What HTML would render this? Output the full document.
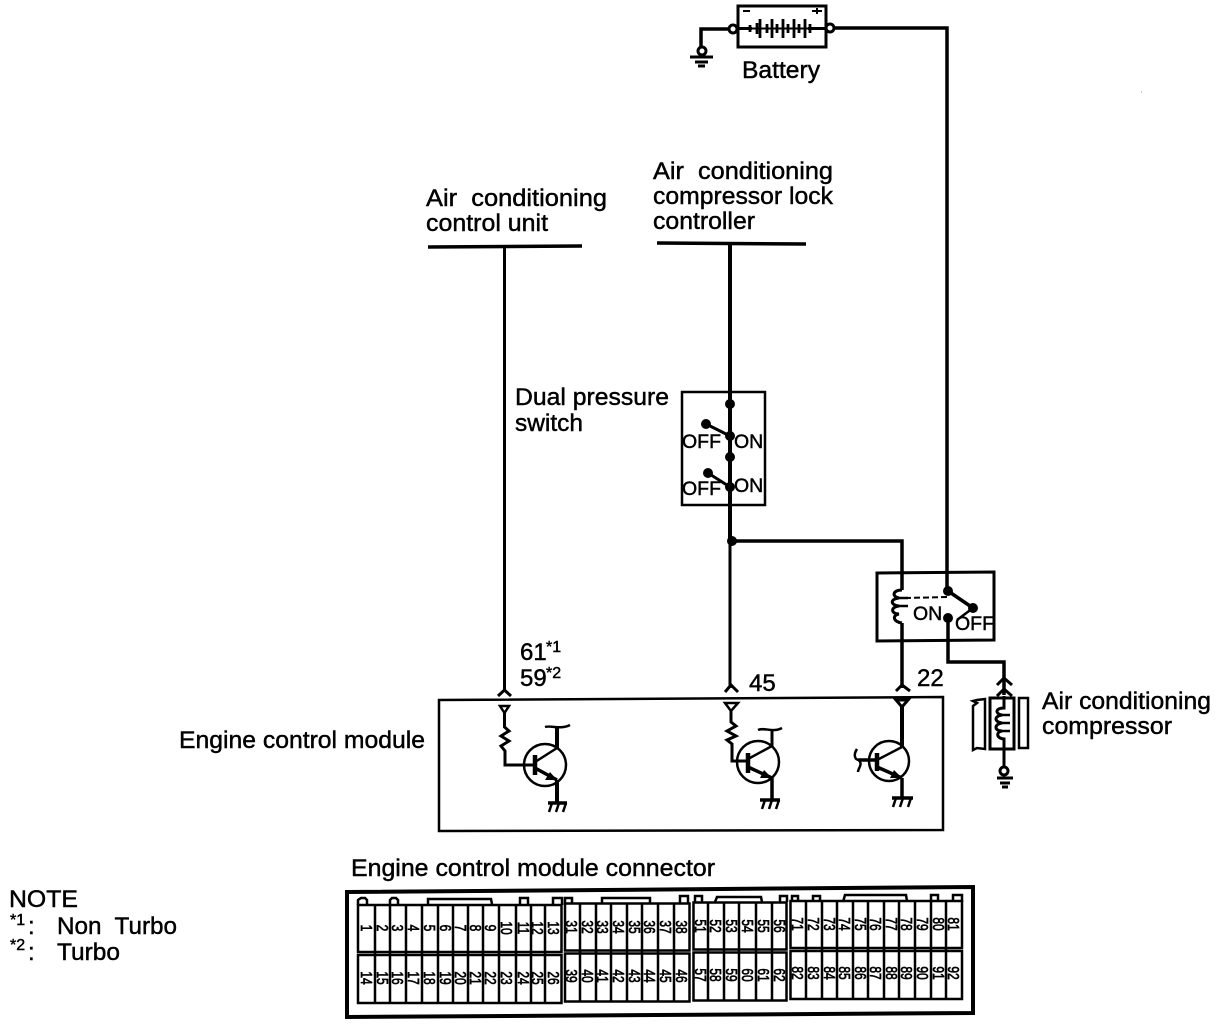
<!DOCTYPE html>
<html>
<head>
<meta charset="utf-8">
<style>
html,body{margin:0;padding:0;background:#fff;width:1216px;height:1026px;overflow:hidden}
svg{display:block}
text{font-family:"Liberation Sans",sans-serif;fill:#000;stroke:#000;stroke-width:.45}
.l{font-size:24px}
.s{font-size:19.5px}
.p{font-size:16px;text-anchor:middle;stroke-width:.7}
</style>
</head>
<body>
<svg width="1216" height="1026" viewBox="0 0 1216 1026" xmlns="http://www.w3.org/2000/svg">
<rect width="1216" height="1026" fill="#fff"/>
<g fill="none" stroke="#000" stroke-width="2">

<!-- Battery -->
<rect x="738" y="6" width="88" height="41" stroke-width="3"/>
<circle cx="733" cy="29" r="4" stroke-width="3"/>
<circle cx="830" cy="28" r="4" stroke-width="3"/>
<path d="M729,29H701V47" stroke-width="3.500"/>
<circle cx="702" cy="51" r="4" stroke-width="3"/>
<path d="M690,57H713M695,62H708" stroke-width="3"/>
<path d="M698,66H705" stroke-width="3"/>
<path d="M737,28.500H752M808,28.500H826" stroke-width="3"/>
<path d="M750,25V32M757,23V34M760,19V38M767,24V33M772,19V38M777,24V33M783,19V38M788,24V33M794,19V38M799,24V33M805,19V38M810,24V33" stroke-width="2.800"/>
<path d="M748,28.500H808" stroke-width="2"/>
<path d="M743,11H750M812,11H822M817,8V14" stroke-width="2"/>
<path d="M834,28H947V591" stroke-width="3.500"/>

<!-- Top bars -->
<path d="M428,247L582,246" stroke-width="3.500"/>
<path d="M657,243L806,244" stroke-width="3.500"/>

<!-- Wires -->
<path d="M504.500,247V692" stroke-width="3"/>
<path d="M730,244V540" stroke-width="4"/>
<path d="M730,540V688" stroke-width="3"/>
<path d="M732,541H902V590" stroke-width="3.500"/>
<circle cx="732" cy="541" r="5" fill="#000" stroke="none"/>

<!-- Dual pressure switch -->
<path d="M682,392H765V505H682Z" stroke-width="2.500"/>
<path d="M706,424L730,436M708,473L730,487" stroke-width="3"/>
<g fill="#000" stroke="none">
<circle cx="730" cy="404" r="5"/>
<circle cx="706" cy="424" r="5"/>
<circle cx="730" cy="436" r="5"/>
<circle cx="730" cy="457" r="5"/>
<circle cx="708" cy="473" r="5"/>
<circle cx="730" cy="487" r="5"/>
</g>

<!-- Relay -->
<path d="M877,573L994,572V640L877,641Z" stroke-width="3"/>
<path d="M902,590C892,590 892,597 899,598C890,599 890,605 899,606C890,607 891,614 899,614C892,615 893,622 902,623" stroke-width="3"/>
<path d="M895,598H908M895,606H908" stroke-width="2.500"/>
<path d="M902,623V688" stroke-width="3.500"/>
<path d="M905,598L948,597" stroke-width="2" stroke-dasharray="6,3"/>
<path d="M948,591L973,608" stroke-width="3.500"/>
<path d="M973,608L957,620" stroke-width="2.500"/>
<path d="M948,618V662H1004V695" stroke-width="3.500"/>
<g fill="#000" stroke="none">
<circle cx="948" cy="591" r="5"/>
<circle cx="973" cy="608" r="5"/>
<circle cx="948" cy="618" r="5"/>
</g>

<!-- Compressor -->
<path d="M997,685L1004,678L1012,685" stroke-width="3"/>
<path d="M997,696L1004,689L1012,696" stroke-width="3"/>
<rect x="990" y="698" width="24" height="51" stroke-width="3"/>
<path d="M1004,696V708C995,708 995,714 1002,715C994,716 994,722 1002,723C994,724 994,731 1002,731C996,732 996,738 1004,739V767" stroke-width="3"/>
<path d="M998,715H1010M998,723H1010M998,731H1010" stroke-width="2.500"/>
<path d="M973,701L977,703L973,706V750L977,748L985,749V699L977,700Z" stroke-width="2.500"/>
<rect x="1019" y="698" width="9" height="50" stroke-width="2.500"/>
<circle cx="1004" cy="771" r="4" stroke-width="3"/>
<path d="M997,778H1013M1000,783H1010M1002,787H1008" stroke-width="3"/>

<!-- ECM box -->
<path d="M439,700L943,697V830L439,831Z" stroke-width="2.500"/>

<!-- Chevrons -->
<path d="M498,696L504.500,690L511,696" stroke-width="3"/>
<path d="M725,692L731,685L738,692" stroke-width="3"/>
<path d="M896,691L902,685L910,691" stroke-width="3"/>

<!-- Transistor 1 -->
<path d="M500,706H509L504.500,713Z" stroke-width="2.500"/>
<path d="M504.500,713V727L509,731L501,736L509,741L501,746L505,751V765H535" stroke-width="3"/>
<circle cx="545" cy="765" r="21" stroke-width="2.500"/>
<path d="M535,755V775" stroke-width="4.500"/>
<path d="M535,762L557,748" stroke-width="2.500"/>
<path d="M557,749V727" stroke-width="4"/>
<path d="M545,727C551,725 560,730 570,725" stroke-width="2.500"/>
<path d="M535,768L557,780" stroke-width="3.500"/>
<path d="M557,780L545,780L550,772Z" fill="#000" stroke="none"/>
<path d="M557,780V803" stroke-width="4"/>
<path d="M548,803H567" stroke-width="3.500"/>
<path d="M552,803L549,812M559,803L556,812M566,803L563,812" stroke-width="2.500"/>

<!-- Transistor 2 -->
<path d="M725,703H738L731,711Z" stroke-width="2.500"/>
<path d="M731,711V722L736,726L727,731L736,736L727,740L732,744V761H748" stroke-width="3"/>
<circle cx="758" cy="762" r="21" stroke-width="2.500"/>
<path d="M748,753V773" stroke-width="4.500"/>
<path d="M748,759L772,746" stroke-width="2.500"/>
<path d="M772,746V730" stroke-width="3"/>
<path d="M758,730C764,727 773,733 782,728" stroke-width="2.500"/>
<path d="M748,767L772,778" stroke-width="3.500"/>
<path d="M772,778L760,778L764,770Z" fill="#000" stroke="none"/>
<path d="M772,778V800" stroke-width="3.500"/>
<path d="M760,800H780" stroke-width="3.500"/>
<path d="M765,800L762,809M772,800L769,809M779,800L776,809" stroke-width="2.500"/>

<!-- Transistor 3 -->
<path d="M896,700H908L902,707Z" stroke-width="3"/>
<path d="M902,707V747" stroke-width="4"/>
<circle cx="889" cy="761" r="20" stroke-width="2.500"/>
<path d="M877,753V771" stroke-width="4.500"/>
<path d="M877,760L902,747" stroke-width="2.500"/>
<path d="M877,767L902,778" stroke-width="3.500"/>
<path d="M902,778L890,778L894,770Z" fill="#000" stroke="none"/>
<path d="M902,778V798" stroke-width="3.500"/>
<path d="M892,798H913" stroke-width="3.500"/>
<path d="M896,798L893,807M903,798L900,807M911,798L908,807" stroke-width="2.500"/>
<path d="M858,760H877" stroke-width="3.500"/>
<path d="M857,749C853,755 855,760 859,760C863,765 858,768 858,772" stroke-width="2.500"/>

<!-- Connector outline -->
<path d="M347,892L973,887V1013L347,1017Z" stroke-width="4"/>
<!-- Tabs -->
<path d="M358,905V900L361,898H365L367,900V905M390,905V900L392,898H396L398,900V905M428,904V899H491L492,904M520,905V898H528V905M553,905V898H562V905M565,905V898H572V904M602,903V898H650V903M680,903V896H688V903M695,903V896H702V903M715,902L717,897H761L762,902M780,902V896H787V902M792,902V896H798V902M813,902V896H820V902M843,902L845,895H906L907,901M931,902V895H938V902M953,902V895H962V902" stroke-width="2.500"/>

<!-- Block 1 -->
<g stroke-width="2.500">
<path d="M358,905H561.500V952H358ZM358,955H561.500V1003H358Z"/>
<path d="M375,905V1003M390,905V1003M406,905V1003M422,905V1003M438,905V1003M453,905V1003M468,905V1003M483,905V1003M499,905V1003M516,905V1003M531,905V1003M545,905V1003"/>
</g>
<!-- Block 2 -->
<g stroke-width="2.500" transform="translate(0,-1.500)">
<path d="M565,905H689.500V952H565ZM565,955H689.500V1003H565Z"/>
<path d="M580,905V1003M596,905V1003M611,905V1003M627,905V1003M642,905V1003M658,905V1003M674,905V1003"/>
</g>
<!-- Block 3 -->
<g stroke-width="2.500" transform="translate(0,-2.500)">
<path d="M693.500,905H786.500V952H693.500ZM693.500,955H786.500V1003H693.500Z"/>
<path d="M708,905V1003M724,905V1003M739,905V1003M756,905V1003M772,905V1003"/>
</g>
<!-- Block 4 -->
<g stroke-width="2.500" transform="translate(0,-4)">
<path d="M790.500,905H962V952H790.500ZM790.500,955H962V1003H790.500Z"/>
<path d="M806,905V1003M822,905V1003M837,905V1003M853,905V1003M868,905V1003M884,905V1003M899,905V1003M915,905V1003M931,905V1003M946,905V1003"/>
</g>
<path d="M1141,92h1" stroke-width="1" stroke="#999"/>
</g>

<!-- Labels -->
<text class="l" x="742" y="78" textLength="78" lengthAdjust="spacingAndGlyphs">Battery</text>
<text class="l" x="426" y="206" textLength="181" lengthAdjust="spacingAndGlyphs" xml:space="preserve">Air  conditioning</text>
<text class="l" x="426" y="231" textLength="122" lengthAdjust="spacingAndGlyphs">control unit</text>
<text class="l" x="653" y="179" textLength="180" lengthAdjust="spacingAndGlyphs" xml:space="preserve">Air  conditioning</text>
<text class="l" x="653" y="204" textLength="180" lengthAdjust="spacingAndGlyphs">compressor lock</text>
<text class="l" x="653" y="229" textLength="102" lengthAdjust="spacingAndGlyphs">controller</text>
<text class="l" x="515" y="405" textLength="154" lengthAdjust="spacingAndGlyphs">Dual pressure</text>
<text class="l" x="515" y="431" textLength="68" lengthAdjust="spacingAndGlyphs">switch</text>
<text class="s" x="682" y="448">OFF</text>
<text class="s" x="734" y="448">ON</text>
<text class="s" x="682" y="495">OFF</text>
<text class="s" x="734" y="492">ON</text>
<text class="s" x="913" y="620">ON</text>
<text class="s" x="955" y="630">OFF</text>
<text class="l" x="520" y="660">61</text><text x="546" y="652" font-size="16">*1</text>
<text class="l" x="520" y="686">59</text><text x="546" y="678" font-size="16">*2</text>
<text class="l" x="749" y="691">45</text>
<text class="l" x="917" y="686">22</text>
<text class="l" x="1042" y="709" textLength="169" lengthAdjust="spacingAndGlyphs">Air conditioning</text>
<text class="l" x="1042" y="734" textLength="130" lengthAdjust="spacingAndGlyphs">compressor</text>
<text class="l" x="179" y="748" textLength="246" lengthAdjust="spacingAndGlyphs">Engine control module</text>
<text class="l" x="351" y="876" textLength="364" lengthAdjust="spacingAndGlyphs">Engine control module connector</text>
<text class="l" x="9" y="907" textLength="69" lengthAdjust="spacingAndGlyphs">NOTE</text>
<text x="10" y="925" font-size="16">*1</text><text class="l" x="28" y="934">:</text>
<text class="l" x="57" y="934" textLength="120" lengthAdjust="spacingAndGlyphs" xml:space="preserve">Non  Turbo</text>
<text x="10" y="950" font-size="16">*2</text><text class="l" x="28" y="960">:</text>
<text class="l" x="57" y="960" textLength="63" lengthAdjust="spacingAndGlyphs">Turbo</text>

<!-- Connector pin numbers: rotated 90deg and compressed along their length -->
<g>
<text class="p" transform="matrix(0 .75 -1 0 361 928)">1</text>
<text class="p" transform="matrix(0 .75 -1 0 377 928)">2</text>
<text class="p" transform="matrix(0 .75 -1 0 392 928)">3</text>
<text class="p" transform="matrix(0 .75 -1 0 408 928)">4</text>
<text class="p" transform="matrix(0 .75 -1 0 424 928)">5</text>
<text class="p" transform="matrix(0 .75 -1 0 440 928)">6</text>
<text class="p" transform="matrix(0 .75 -1 0 455 928)">7</text>
<text class="p" transform="matrix(0 .75 -1 0 470 928)">8</text>
<text class="p" transform="matrix(0 .75 -1 0 485 928)">9</text>
<text class="p" transform="matrix(0 .75 -1 0 501 928)">10</text>
<text class="p" transform="matrix(0 .75 -1 0 518 928)">11</text>
<text class="p" transform="matrix(0 .75 -1 0 532 928)">12</text>
<text class="p" transform="matrix(0 .75 -1 0 548 928)">13</text>
<text class="p" transform="matrix(0 .75 -1 0 361 978)">14</text>
<text class="p" transform="matrix(0 .75 -1 0 377 978)">15</text>
<text class="p" transform="matrix(0 .75 -1 0 392 978)">16</text>
<text class="p" transform="matrix(0 .75 -1 0 408 978)">17</text>
<text class="p" transform="matrix(0 .75 -1 0 424 978)">18</text>
<text class="p" transform="matrix(0 .75 -1 0 440 978)">19</text>
<text class="p" transform="matrix(0 .75 -1 0 455 978)">20</text>
<text class="p" transform="matrix(0 .75 -1 0 470 978)">21</text>
<text class="p" transform="matrix(0 .75 -1 0 485 978)">22</text>
<text class="p" transform="matrix(0 .75 -1 0 501 978)">23</text>
<text class="p" transform="matrix(0 .75 -1 0 518 978)">24</text>
<text class="p" transform="matrix(0 .75 -1 0 532 978)">25</text>
<text class="p" transform="matrix(0 .75 -1 0 548 978)">26</text>

<text class="p" transform="matrix(0 .75 -1 0 566 927)">31</text>
<text class="p" transform="matrix(0 .75 -1 0 582 927)">32</text>
<text class="p" transform="matrix(0 .75 -1 0 597 927)">33</text>
<text class="p" transform="matrix(0 .75 -1 0 613 927)">34</text>
<text class="p" transform="matrix(0 .75 -1 0 629 927)">35</text>
<text class="p" transform="matrix(0 .75 -1 0 644 927)">36</text>
<text class="p" transform="matrix(0 .75 -1 0 660 927)">37</text>
<text class="p" transform="matrix(0 .75 -1 0 676 927)">38</text>
<text class="p" transform="matrix(0 .75 -1 0 566 976)">39</text>
<text class="p" transform="matrix(0 .75 -1 0 582 976)">40</text>
<text class="p" transform="matrix(0 .75 -1 0 597 976)">41</text>
<text class="p" transform="matrix(0 .75 -1 0 613 976)">42</text>
<text class="p" transform="matrix(0 .75 -1 0 629 976)">43</text>
<text class="p" transform="matrix(0 .75 -1 0 644 976)">44</text>
<text class="p" transform="matrix(0 .75 -1 0 660 976)">45</text>
<text class="p" transform="matrix(0 .75 -1 0 676 976)">46</text>

<text class="p" transform="matrix(0 .75 -1 0 695 926)">51</text>
<text class="p" transform="matrix(0 .75 -1 0 710 926)">52</text>
<text class="p" transform="matrix(0 .75 -1 0 726 926)">53</text>
<text class="p" transform="matrix(0 .75 -1 0 742 926)">54</text>
<text class="p" transform="matrix(0 .75 -1 0 758 926)">55</text>
<text class="p" transform="matrix(0 .75 -1 0 774 926)">56</text>
<text class="p" transform="matrix(0 .75 -1 0 695 975)">57</text>
<text class="p" transform="matrix(0 .75 -1 0 710 975)">58</text>
<text class="p" transform="matrix(0 .75 -1 0 726 975)">59</text>
<text class="p" transform="matrix(0 .75 -1 0 742 975)">60</text>
<text class="p" transform="matrix(0 .75 -1 0 758 975)">61</text>
<text class="p" transform="matrix(0 .75 -1 0 774 975)">62</text>

<text class="p" transform="matrix(0 .75 -1 0 792 924)">71</text>
<text class="p" transform="matrix(0 .75 -1 0 808 924)">72</text>
<text class="p" transform="matrix(0 .75 -1 0 824 924)">73</text>
<text class="p" transform="matrix(0 .75 -1 0 839 924)">74</text>
<text class="p" transform="matrix(0 .75 -1 0 855 924)">75</text>
<text class="p" transform="matrix(0 .75 -1 0 870 924)">76</text>
<text class="p" transform="matrix(0 .75 -1 0 886 924)">77</text>
<text class="p" transform="matrix(0 .75 -1 0 901 924)">78</text>
<text class="p" transform="matrix(0 .75 -1 0 917 924)">79</text>
<text class="p" transform="matrix(0 .75 -1 0 933 924)">80</text>
<text class="p" transform="matrix(0 .75 -1 0 948 924)">81</text>
<text class="p" transform="matrix(0 .75 -1 0 792 973)">82</text>
<text class="p" transform="matrix(0 .75 -1 0 808 973)">83</text>
<text class="p" transform="matrix(0 .75 -1 0 824 973)">84</text>
<text class="p" transform="matrix(0 .75 -1 0 839 973)">85</text>
<text class="p" transform="matrix(0 .75 -1 0 855 973)">86</text>
<text class="p" transform="matrix(0 .75 -1 0 870 973)">87</text>
<text class="p" transform="matrix(0 .75 -1 0 886 973)">88</text>
<text class="p" transform="matrix(0 .75 -1 0 901 973)">89</text>
<text class="p" transform="matrix(0 .75 -1 0 917 973)">90</text>
<text class="p" transform="matrix(0 .75 -1 0 933 973)">91</text>
<text class="p" transform="matrix(0 .75 -1 0 948 973)">92</text>
</g>
</svg>
</body>
</html>
